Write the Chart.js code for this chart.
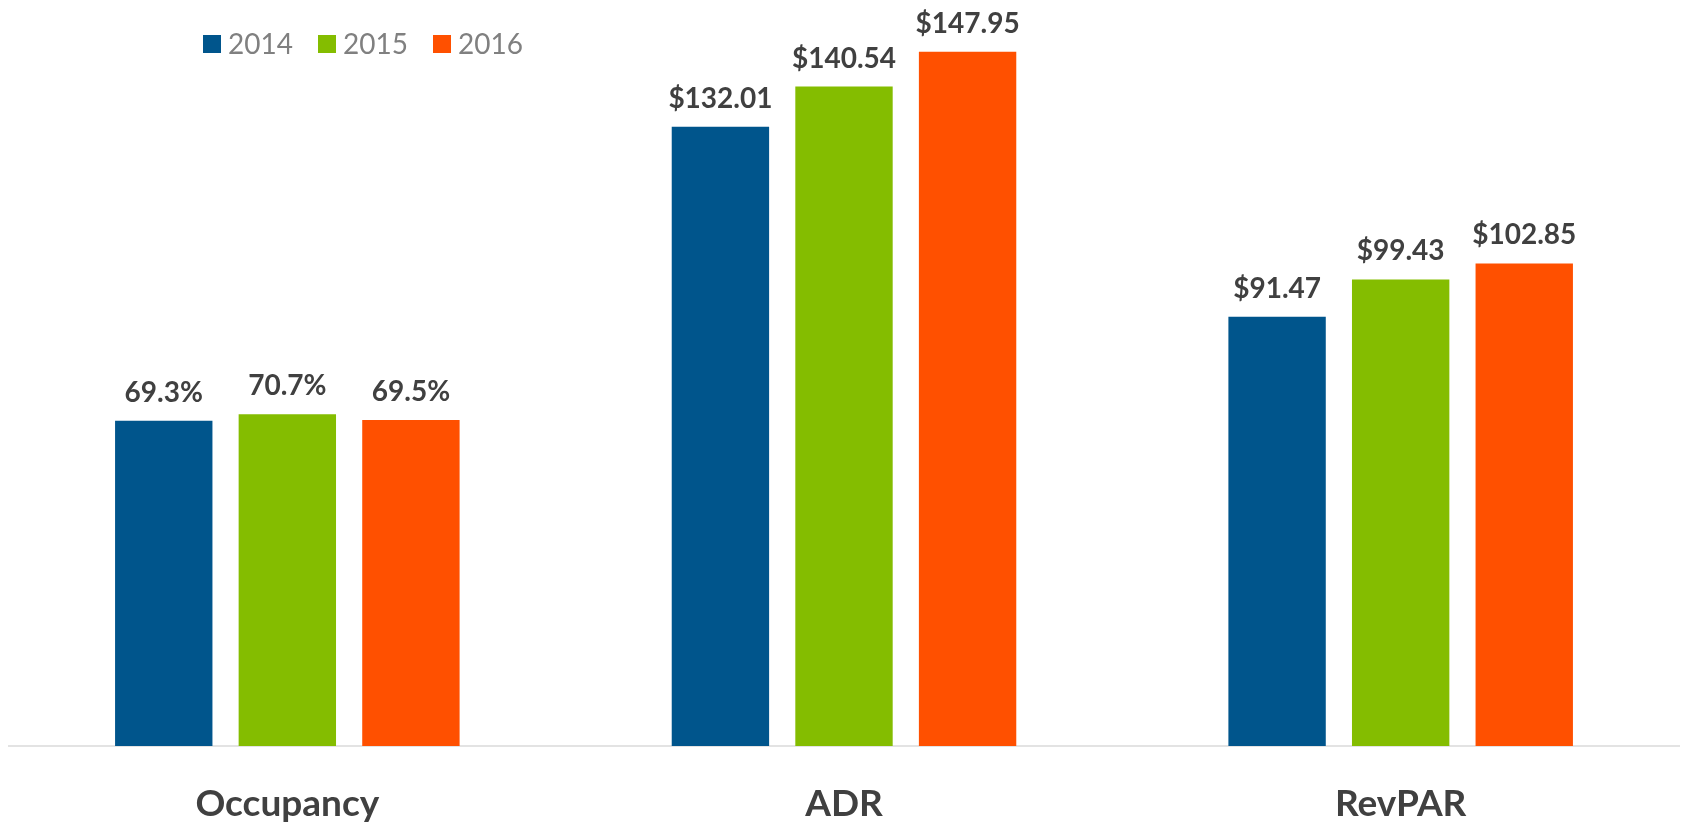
<!DOCTYPE html>
<html>
<head>
<meta charset="utf-8">
<title>Occupancy, ADR and RevPAR</title>
<script src="https://cdn.jsdelivr.net/npm/chart.js@4.4.1/dist/chart.umd.min.js"></script>
<style>
  html, body { margin: 0; padding: 0; background: #fff; }
  #wrap { width: 1683px; height: 824px; position: relative; }
</style>
</head>
<body>
<div id="wrap"><canvas id="kpiChart" width="1683" height="824"></canvas></div>
<script>
// chart data
const categories = ['Occupancy', 'ADR', 'RevPAR'];
const years = ['2014', '2015', '2016'];
const values2014 = [69.3, 132.01, 91.47];
const values2015 = [70.7, 140.54, 99.43];
const values2016 = [69.5, 147.95, 102.85];
const yearColors = ['#00558C', '#84BD00', '#FF5000'];

const labelFont = '"Lato", "Open Sans", sans-serif';

// occupancy is a percent, the others are dollars
const formatValue = (v, i) => i === 0 ? v.toFixed(1) + '%' : '$' + v.toFixed(2);

// value labels above each bar
const valueLabels = {
  id: 'valueLabels',
  afterDatasetsDraw(chart) {
    const ctx = chart.ctx;
    ctx.save();
    ctx.font = 'bold 28px ' + labelFont;
    ctx.fillStyle = '#404040';
    ctx.textAlign = 'center';
    ctx.textBaseline = 'alphabetic';
    chart.data.datasets.forEach((ds, di) => {
      chart.getDatasetMeta(di).data.forEach((bar, i) => {
        ctx.fillText(formatValue(ds.data[i], i), bar.x, bar.y - 19);
      });
    });
    ctx.restore();
  }
};

// legend drawn inside the plot, top left
const topLegend = {
  id: 'topLegend',
  afterDraw(chart) {
    const ctx = chart.ctx;
    ctx.save();
    ctx.font = '28px ' + labelFont;
    ctx.textBaseline = 'alphabetic';
    ctx.textAlign = 'left';
    let x = 203;
    chart.data.datasets.forEach(ds => {
      ctx.fillStyle = ds.backgroundColor;
      ctx.fillRect(x, 35, 18, 18);
      ctx.fillStyle = '#808080';
      ctx.fillText(ds.label, x + 25, 54);
      x += 115;
    });
    ctx.restore();
  }
};

const ctx = document.getElementById('kpiChart').getContext('2d');

new Chart(ctx, {
  type: 'bar',
  data: {
    labels: categories,
    datasets: [
      { label: years[0], data: values2014, backgroundColor: yearColors[0] },
      { label: years[1], data: values2015, backgroundColor: yearColors[1] },
      { label: years[2], data: values2016, backgroundColor: yearColors[2] },
    ],
  },
  options: {
    responsive: false,
    animation: false,
    layout: { padding: { left: 9, right: 4, top: 0, bottom: 0 } },
    datasets: {
      bar: { categoryPercentage: 0.666, barPercentage: 0.788 }
    },
    plugins: {
      legend: { display: false },
      tooltip: { enabled: false },
    },
    scales: {
      x: {
        grid: { display: false },
        border: { display: true, color: '#e3e3e3', width: 2 },
        ticks: {
          color: '#404040',
          padding: 32,
          font: { family: labelFont, size: 37, weight: 'bold', lineHeight: 1.0 },
        },
        afterFit(scale) { scale.height = 78; },
      },
      y: {
        display: false,
        min: 0,
        max: 159,
      },
    },
  },
  plugins: [valueLabels, topLegend],
});
</script>
</body>
</html>
